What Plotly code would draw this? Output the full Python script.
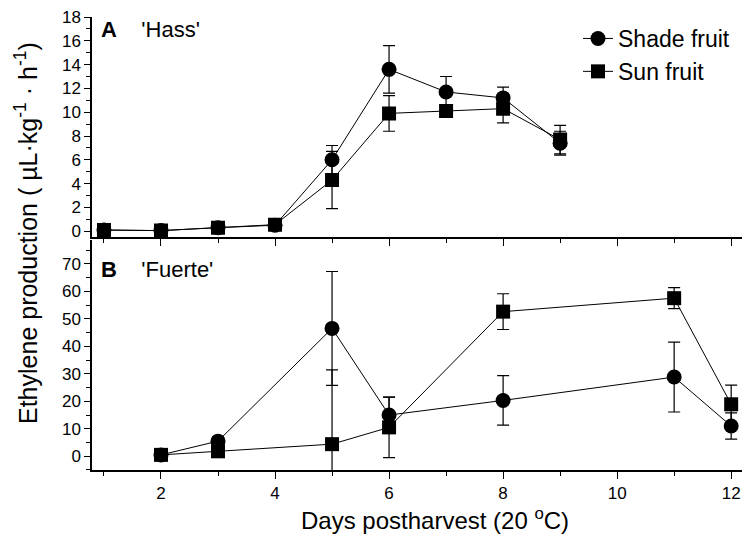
import plotly.graph_objects as go

# Panel A: 'Hass'
hass_days = [1, 2, 3, 4, 5, 6, 7, 8, 9]
hass_shade = [0.1, 0.05, 0.3, 0.5, 6.0, 13.6, 11.7, 11.2, 7.4]
hass_shade_err = [0, 0, 0, 0, 1.2, 2.0, 1.3, 0.9, 1.0]
hass_sun = [0.1, 0.05, 0.3, 0.55, 4.3, 9.9, 10.1, 10.3, 7.7]
hass_sun_err = [0, 0, 0, 0, 2.4, 1.5, 0.3, 1.2, 1.2]

# Panel B: 'Fuerte'
fuerte_days = [2, 3, 5, 6, 8, 11, 12]
fuerte_shade = [0.5, 5.5, 46.5, 15.0, 20.3, 28.8, 11.0]
fuerte_shade_err = [0.5, 1.5, 20.7, 6.5, 9.0, 12.7, 4.8]
fuerte_sun = [0.5, 1.8, 4.4, 10.5, 52.6, 57.5, 18.9]
fuerte_sun_err = [0.5, 0.5, 27.0, 11.0, 6.5, 3.8, 7.0]

x_ticks = [2, 4, 6, 8, 10, 12]
x_minor = [1, 3, 5, 7, 9, 11]

FONT = "Liberation Sans, Arial, sans-serif"

fig = go.Figure()

def add(x, y, err, sym, name, show, xa, ya):
    fig.add_trace(go.Scatter(
        x=x, y=y, mode="lines+markers", name=name, showlegend=show,
        xaxis=xa, yaxis=ya,
        line=dict(color="black", width=1),
        marker=dict(symbol=sym, size=15 if sym == "circle" else 14, color="black"),
        error_y=dict(type="data", array=err, visible=True, color="black",
                     thickness=1.2, width=6),
    ))

add(hass_days, hass_shade, hass_shade_err, "circle", "Shade fruit", True, "x", "y")
add(hass_days, hass_sun, hass_sun_err, "square", "Sun fruit", True, "x", "y")
add(fuerte_days, fuerte_shade, fuerte_shade_err, "circle", "Shade fruit", False, "x2", "y2")
add(fuerte_days, fuerte_sun, fuerte_sun_err, "square", "Sun fruit", False, "x2", "y2")

xcommon = dict(range=[0.79, 12.19], tickvals=x_ticks, showline=True, linecolor="black",
               linewidth=1.5, ticks="outside", ticklen=7, tickcolor="black",
               showgrid=False, zeroline=False,
               minor=dict(tickvals=x_minor, ticks="outside", ticklen=4,
                          tickcolor="black"),
               tickfont=dict(size=17, family=FONT, color="black"))

ycommon = dict(showline=True, linecolor="black", linewidth=1.5, ticks="outside",
               ticklen=6, tickcolor="black", showgrid=False, zeroline=False,
               tickfont=dict(size=17, family=FONT, color="black"))

fig.update_layout(
    width=744, height=536,
    margin=dict(l=92, r=2, t=17, b=66),
    paper_bgcolor="white", plot_bgcolor="white",
    font=dict(family=FONT, color="black"),
    xaxis=dict(**xcommon, anchor="y", showticklabels=False),
    xaxis2=dict(**xcommon, anchor="y2"),
    yaxis=dict(**ycommon, domain=[0.514, 1], range=[-0.5, 18],
               tickvals=list(range(0, 19, 2)),
               minor=dict(dtick=1, ticks="outside", ticklen=4, tickcolor="black"),
               anchor="x"),
    yaxis2=dict(**ycommon, domain=[0, 0.508], range=[-5, 78.7],
                tickvals=list(range(0, 71, 10)),
                minor=dict(dtick=5, ticks="outside", ticklen=4, tickcolor="black"),
                anchor="x2"),
    legend=dict(x=(578 - 92) / 650, y=1.0, xanchor="left", yanchor="top",
                font=dict(size=23, family=FONT), bgcolor="rgba(0,0,0,0)",
                tracegroupgap=0),
    showlegend=True,
)

fig.add_annotation(text="<b>A</b>&nbsp;&nbsp;&nbsp;&nbsp;'Hass'", xref="paper", yref="paper",
                   x=(99 - 92) / 650, y=(470 - 15) / 453,
                   xanchor="left", yanchor="top", showarrow=False, font=dict(size=22))
fig.add_annotation(text="<b>B</b>&nbsp;&nbsp;&nbsp;&nbsp;'Fuerte'", xref="paper", yref="paper",
                   x=(99 - 92) / 650, y=(470 - 255) / 453,
                   xanchor="left", yanchor="top", showarrow=False, font=dict(size=22))
fig.add_annotation(text="Ethylene production ( µL·kg<sup>-1</sup> · h<sup>-1</sup>)",
                   xref="paper", yref="paper", x=(26 - 92) / 650, y=(470 - 233) / 453,
                   textangle=-90, xanchor="center", yanchor="middle", showarrow=False,
                   font=dict(size=25))
fig.add_annotation(text="Days postharvest (20 <sup>o</sup>C)",
                   xref="paper", yref="paper", x=(435 - 92) / 650, y=(470 - 519) / 453,
                   xanchor="center", yanchor="middle", showarrow=False, font=dict(size=24))

fig.write_html("out.html", config={"displayModeBar": False},
               post_script="document.body.style.margin='0px';")
